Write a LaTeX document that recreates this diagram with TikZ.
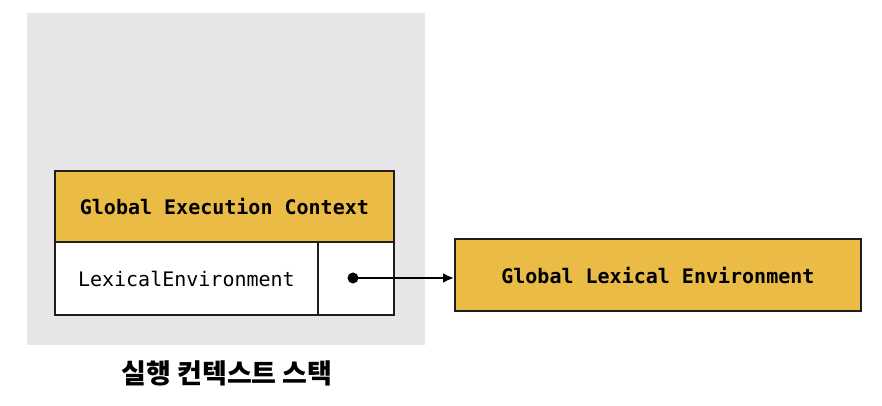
\documentclass[tikz,border=0pt]{standalone}
\usepackage{fontspec}
\setmonofont{DejaVu Sans Mono}
\newfontfamily\krfont{Noto Sans CJK KR}
\usetikzlibrary{arrows.meta}
\definecolor{ctxyellow}{HTML}{EBBC45}
\definecolor{stackgray}{HTML}{E7E5E7}
\definecolor{edge}{HTML}{1E1E1E}
\tikzset{
  x=1pt,y=1pt,
  cell/.style={draw=edge,line width=1.8pt,inner sep=0pt,anchor=south west},
  monotext/.style={font=\ttfamily\fontsize{20}{22}\selectfont,text=black},
  boldmono/.style={font=\ttfamily\bfseries\fontsize{20}{22}\selectfont,text=black},
  link/.style={draw=black,line width=2.2pt,-{Latex[length=11pt,width=10pt]}}
}
\begin{document}
\begin{tikzpicture}
\useasboundingbox (0,0) rectangle (882,406);
\fill[stackgray] (27,61) rectangle (425,393);
% header
\node[cell,fill=ctxyellow,minimum width=339pt,minimum height=71pt] (hdr) at (54,163) {};
\node[boldmono] (hdrtxt) at (hdr.center) {Global Execution Context};
% lower row
\node[cell,fill=white,minimum width=263pt,minimum height=73pt] (lexcell) at (54,90) {};
\node[monotext] (lextxt) at (lexcell.center) {LexicalEnvironment};
\node[cell,fill=white,minimum width=76pt,minimum height=73pt] (ptrcell) at (317,90) {};
\node[circle,fill=black,inner sep=0pt,minimum size=11pt] (dot) at (353,128) {};
% right box
\node[cell,fill=ctxyellow,minimum width=406pt,minimum height=72pt] (gle) at (454,94) {};
\node[boldmono] (gletxt) at (gle.center) {Global Lexical Environment};
\draw[link] (dot.center) -- (dot -| gle.west);
% caption
\node[font=\krfont\bfseries\fontsize{27}{30}\selectfont] (cap) at (227,33) {실행 컨텍스트 스택};
\end{tikzpicture}
\end{document}
